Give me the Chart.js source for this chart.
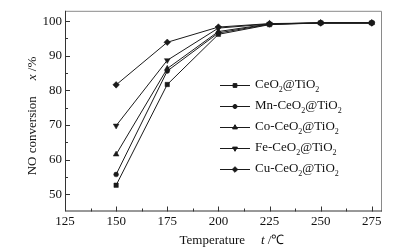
<!DOCTYPE html>
<html>
<head>
<meta charset="utf-8">
<script src="https://cdn.jsdelivr.net/npm/chart.js@4/dist/chart.umd.min.js"></script>
<style>
  html, body { margin: 0; padding: 0; background: #fff; }
  #wrap { width: 402px; height: 251px; position: relative; }
</style>
</head>
<body>
<div id="wrap"><canvas id="c"></canvas></div>
<script>
// temperatures (°C)
const temps = [150, 175, 200, 225, 250, 275];
// NO conversion (%)
const ceO2 = [52.6, 81.7, 96.2, 99.0, 99.5, 99.5];
const mnCeO2 = [55.7, 85.6, 96.6, 99.1, 99.5, 99.5];
const coCeO2 = [61.5, 86.3, 97.0, 99.2, 99.5, 99.5];
const feCeO2 = [69.8, 88.7, 98.0, 99.2, 99.5, 99.5];
const cuCeO2 = [81.6, 93.9, 98.3, 99.3, 99.5, 99.5];

const xTicks = [125, 150, 175, 200, 225, 250, 275];
const yTicks = [50, 60, 70, 80, 90, 100];

// legend label parts: [text, subscript?]
const seriesNames = [
  [["CeO", 0], ["2", 1], ["@TiO", 0], ["2", 1]],
  [["Mn-CeO", 0], ["2", 1], ["@TiO", 0], ["2", 1]],
  [["Co-CeO", 0], ["2", 1], ["@TiO", 0], ["2", 1]],
  [["Fe-CeO", 0], ["2", 1], ["@TiO", 0], ["2", 1]],
  [["Cu-CeO", 0], ["2", 1], ["@TiO", 0], ["2", 1]],
];

const SERIF = "'Liberation Serif', 'Times New Roman', serif";
const ink = "#1a1a1a";

function toPts(vals) {
  return vals.map((v, i) => ({ x: temps[i], y: v }));
}

const styles = [
  { pointStyle: "rect", radius: 3.1, rotation: 0 },
  { pointStyle: "circle", radius: 2.4, rotation: 0 },
  { pointStyle: "triangle", radius: 3.3, rotation: 0 },
  { pointStyle: "triangle", radius: 3.3, rotation: 180 },
  { pointStyle: "rectRot", radius: 3.3, rotation: 0 },
];

const allSeries = [ceO2, mnCeO2, coCeO2, feCeO2, cuCeO2];

const datasets = allSeries.map((vals, i) => ({
  data: toPts(vals),
  borderColor: ink,
  backgroundColor: ink,
  borderWidth: 1,
  pointStyle: styles[i].pointStyle,
  pointRadius: styles[i].radius,
  pointRotation: styles[i].rotation,
  pointBorderWidth: 0.5,
  tension: 0,
}));

// frame, inward ticks, axis titles, legend
const decor = {
  id: "decor",
  afterDraw(chart) {
    const { ctx, chartArea: a, scales } = chart;
    const xs = scales.x, ys = scales.y;
    ctx.save();

    // frame
    ctx.strokeStyle = "#8a8a8a";
    ctx.lineWidth = 1;
    ctx.beginPath();
    ctx.moveTo(a.left, a.top + 0.5);
    ctx.lineTo(a.right - 0.5, a.top + 0.5);
    ctx.lineTo(a.right - 0.5, a.bottom);
    ctx.stroke();
    ctx.strokeStyle = "#333";
    ctx.beginPath();
    ctx.moveTo(a.left + 0.5, a.top);
    ctx.lineTo(a.left + 0.5, a.bottom - 0.5);
    ctx.lineTo(a.right, a.bottom - 0.5);
    ctx.stroke();

    // inward ticks
    ctx.beginPath();
    for (let v = 125; v <= 280; v += 12.5) {
      const px = Math.round(xs.getPixelForValue(v)) + 0.5;
      const len = (v - 125) % 25 === 0 ? 5 : 3;
      ctx.moveTo(px, a.bottom);
      ctx.lineTo(px, a.bottom - len);
    }
    for (let v = 50; v <= 100; v += 5) {
      const py = Math.round(ys.getPixelForValue(v)) + 0.5;
      const len = v % 10 === 0 ? 5 : 3;
      ctx.moveTo(a.left, py);
      ctx.lineTo(a.left + len, py);
    }
    ctx.stroke();

    ctx.fillStyle = "#111";
    ctx.textBaseline = "middle";

    // x title
    const xt1 = "Temperature", xt2 = "t", xt3 = " /℃";
    ctx.font = "13px " + SERIF;
    const w1 = ctx.measureText(xt1).width;
    ctx.font = "italic 13px " + SERIF;
    const w2 = ctx.measureText(xt2).width;
    ctx.font = "13px " + SERIF;
    const w3 = ctx.measureText(xt3).width;
    const gap = 16;
    let x0 = 232 - (w1 + gap + w2 + w3) / 2;
    const ty = 241;
    ctx.textAlign = "left";
    ctx.fillText(xt1, x0, ty);
    ctx.font = "italic 13px " + SERIF;
    ctx.fillText(xt2, x0 + w1 + gap, ty);
    ctx.font = "13px " + SERIF;
    ctx.fillText(xt3, x0 + w1 + gap + w2, ty);

    // y title (rotated)
    ctx.save();
    ctx.translate(33, 116);
    ctx.rotate(-Math.PI / 2);
    const yt1 = "NO conversion", yt2 = "x", yt3 = " /%";
    ctx.font = "13px " + SERIF;
    const v1 = ctx.measureText(yt1).width;
    ctx.font = "italic 13px " + SERIF;
    const v2 = ctx.measureText(yt2).width;
    ctx.font = "13px " + SERIF;
    const v3 = ctx.measureText(yt3).width;
    let y0 = -(v1 + gap + v2 + v3) / 2;
    ctx.fillText(yt1, y0, 0);
    ctx.font = "italic 13px " + SERIF;
    ctx.fillText(yt2, y0 + v1 + gap, 0);
    ctx.font = "13px " + SERIF;
    ctx.fillText(yt3, y0 + v1 + gap + v2, 0);
    ctx.restore();

    // legend
    const lx1 = 220, lx2 = 250, tx = 255;
    seriesNames.forEach((parts, i) => {
      const ly = 85 + i * 21;
      ctx.strokeStyle = ink;
      ctx.lineWidth = 1;
      ctx.beginPath();
      ctx.moveTo(lx1, ly + 0.5);
      ctx.lineTo(lx2, ly + 0.5);
      ctx.stroke();
      ctx.fillStyle = ink;
      Chart.helpers.drawPoint(ctx, {
        pointStyle: styles[i].pointStyle,
        radius: styles[i].radius * 0.85,
        rotation: styles[i].rotation,
        borderWidth: 0.5,
      }, (lx1 + lx2) / 2, ly + 0.5);
      let cx = tx;
      ctx.fillStyle = "#111";
      parts.forEach(([txt, sub]) => {
        ctx.font = (sub ? "8px " : "13px ") + SERIF;
        ctx.fillText(txt, cx, sub ? ly + 5 : ly);
        cx += ctx.measureText(txt).width;
      });
    });

    ctx.restore();
  },
};

new Chart(document.getElementById("c"), {
  type: "line",
  data: { datasets },
  options: {
    responsive: true,
    maintainAspectRatio: false,
    animation: false,
    events: [],
    layout: { padding: { left: 0, right: 20, top: 4, bottom: 0 } },
    plugins: { legend: { display: false }, tooltip: { enabled: false } },
    scales: {
      x: {
        type: "linear",
        min: 125,
        max: 280,
        afterFit: (s) => { s.height = 39.5; },
        afterBuildTicks: (s) => { s.ticks = xTicks.map((v) => ({ value: v })); },
        grid: { display: false, drawTicks: false },
        border: { display: false },
        ticks: {
          color: "#111",
          font: { family: SERIF, size: 13 },
          padding: 2,
          maxRotation: 0,
        },
      },
      y: {
        min: 45,
        max: 103,
        afterFit: (s) => { s.width = 65; },
        afterBuildTicks: (s) => { s.ticks = yTicks.map((v) => ({ value: v })); },
        grid: { display: false, drawTicks: false },
        border: { display: false },
        ticks: {
          color: "#111",
          font: { family: SERIF, size: 13 },
          padding: 3,
        },
      },
    },
  },
  plugins: [decor],
});
</script>
</body>
</html>
